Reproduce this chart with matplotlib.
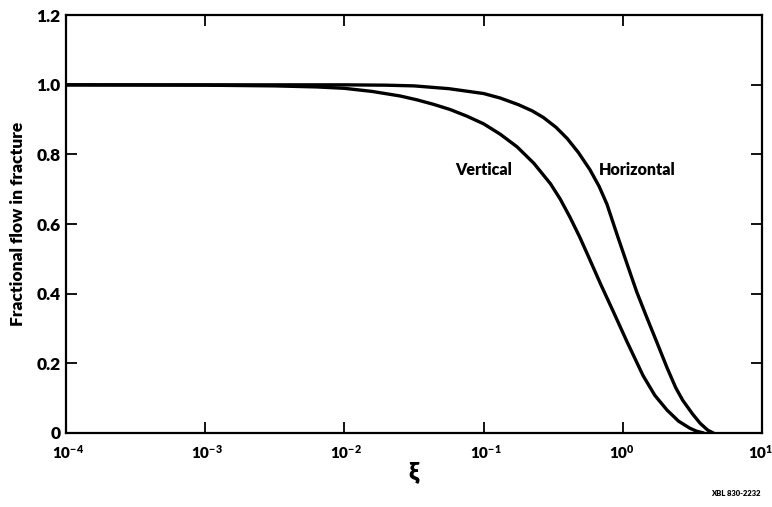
import numpy as np
import matplotlib
matplotlib.use("Agg")
from matplotlib import pyplot as plt
from matplotlib.transforms import ScaledTranslation

plt.rcParams['font.family'] = ['Lato', 'DejaVu Sans']
plt.rcParams['font.weight'] = 'heavy'
plt.rcParams['axes.labelweight'] = 'heavy'
plt.rcParams['mathtext.fontset'] = 'custom'
plt.rcParams['mathtext.rm'] = 'Lato:heavy'
plt.rcParams['mathtext.bf'] = 'Lato:heavy'
plt.rcParams['mathtext.default'] = 'bf'

# fractional flow in fracture vs xi (log scale)
xi_vert = [1e-4, 1e-3, 10**-2.5, 10**-2.2, 10**-2.0, 10**-1.8, 10**-1.6, 10**-1.48,
           10**-1.36, 10**-1.24, 10**-1.12, 10**-1.0, 10**-0.88, 10**-0.76, 10**-0.64,
           10**-0.52, 10**-0.45, 10**-0.38, 10**-0.31, 10**-0.245, 10**-0.16, 10**-0.07,
           10**0.03, 10**0.145, 10**0.23, 10**0.317, 10**0.40, 10**0.48, 10**0.53, 10**0.58]
ff_vert = [1.0, 0.999, 0.997, 0.994, 0.990, 0.981, 0.968, 0.957,
           0.944, 0.929, 0.910, 0.888, 0.858, 0.822, 0.775,
           0.716, 0.672, 0.620, 0.563, 0.505, 0.428, 0.350,
           0.262, 0.165, 0.108, 0.066, 0.034, 0.014, 0.005, 0.0]

xi_horz = [1e-4, 1e-3, 1e-2, 10**-1.7, 10**-1.5, 10**-1.25, 10**-1.0, 10**-0.88,
           10**-0.75, 10**-0.65, 10**-0.57, 10**-0.48, 10**-0.40, 10**-0.32,
           10**-0.236, 10**-0.17, 10**-0.114, 10**-0.04, 10**0.03, 10**0.10,
           10**0.174, 10**0.25, 10**0.317, 10**0.38, 10**0.43, 10**0.50,
           10**0.555, 10**0.61, 10**0.65]
ff_horz = [1.0, 1.0, 1.0, 0.999, 0.997, 0.989, 0.975, 0.962,
           0.943, 0.925, 0.906, 0.878, 0.846, 0.806,
           0.756, 0.708, 0.657, 0.568, 0.486, 0.405,
           0.330, 0.255, 0.188, 0.130, 0.094, 0.055,
           0.028, 0.008, 0.0]

x_ticks = [1e-4, 1e-3, 1e-2, 1e-1, 1e0, 1e1]
x_tick_labels = ['$10^{-4}$', '$10^{-3}$', '$10^{-2}$', '$10^{-1}$', '$10^{0}$', '$10^{1}$']
y_ticks = [0, 0.2, 0.4, 0.6, 0.8, 1.0, 1.2]
y_tick_labels = ['0', '0.2', '0.4', '0.6', '0.8', '1.0', '1.2']

fig = plt.figure(figsize=(7.72, 5.07), dpi=100)
ax = fig.add_axes([0.0855, 0.146, 0.9016, 0.824])

ax.plot(xi_vert, ff_vert, color='black', lw=2.4, solid_capstyle='round')
ax.plot(xi_horz, ff_horz, color='black', lw=2.4, solid_capstyle='round')

ax.set_xscale('log')
ax.set_xlim(1e-4, 1e1)
ax.set_ylim(0, 1.2)
ax.set_xticks(x_ticks)
ax.set_xticklabels(x_tick_labels, fontsize=11)
ax.minorticks_off()
ax.set_yticks(y_ticks)
ax.set_yticklabels(y_tick_labels, fontsize=12.5)
ax.tick_params(axis='both', direction='in', length=8, width=1.3,
               top=True, right=True)
ax.tick_params(axis='x', pad=7)
ax.tick_params(axis='y', pad=4)
for sp in ax.spines.values():
    sp.set_linewidth(1.6)

# the "10" of each decade label ends at its tick, exponent sits to the right
shift = ScaledTranslation(-14 / 100, 0, fig.dpi_scale_trans)
for lab in ax.get_xticklabels():
    lab.set_ha('left')
    lab.set_transform(lab.get_transform() + shift)

ax.set_xlabel(r'$\xi$', fontsize=18, labelpad=0)
ax.set_ylabel('Fractional flow in fracture', fontsize=12.5, labelpad=7)

ax.text(0.1, 0.755, 'Vertical', fontsize=11.5, ha='center', va='center')
ax.text(1.26, 0.755, 'Horizontal', fontsize=11.5, ha='center', va='center')

fig.text(0.985, 0.02, 'XBL 830-2232', fontsize=5.5, ha='right', va='bottom')

fig.savefig('out.png', dpi=100)
